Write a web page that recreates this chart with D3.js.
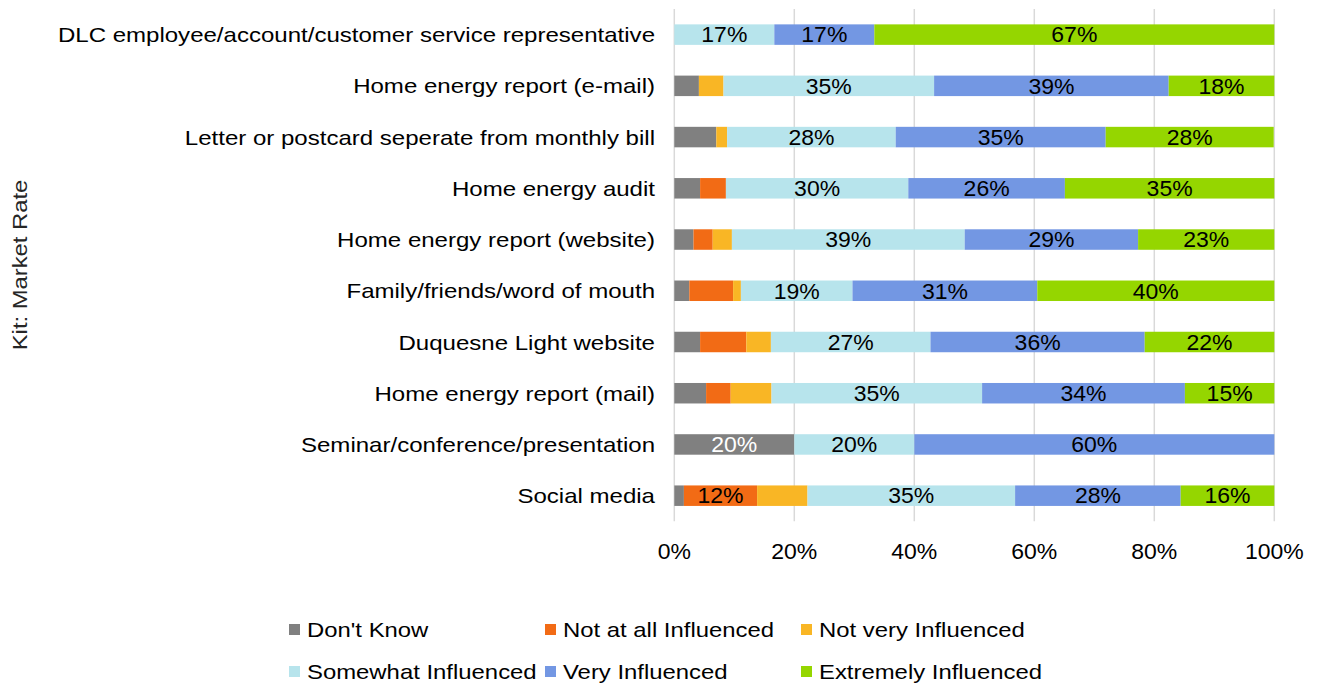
<!DOCTYPE html>
<html>
<head>
<meta charset="utf-8">
<script src="https://cdn.jsdelivr.net/npm/d3@7"></script>
<style>
  body { margin: 0; background: #fff; }
  svg { display: block; font-family: "Liberation Sans", Arial, sans-serif; }
</style>
</head>
<body>
<svg class="canvas" width="1320" height="685"></svg>
<script>
"use strict";

const categories = [
  "DLC employee/account/customer service representative",
  "Home energy report (e-mail)",
  "Letter or postcard seperate from monthly bill",
  "Home energy audit",
  "Home energy report (website)",
  "Family/friends/word of mouth",
  "Duquesne Light website",
  "Home energy report (mail)",
  "Seminar/conference/presentation",
  "Social media"
];
const seriesNames = [
  "Don't Know",
  "Not at all Influenced",
  "Not very Influenced",
  "Somewhat Influenced",
  "Very Influenced",
  "Extremely Influenced"
];
const seriesColors = ["#808080", "#f26b15", "#f9b625", "#b7e4ec", "#7397e3", "#95d600"];

// percent per category, same order as categories
const dontKnow     = [0,     4.1, 7.0, 4.3, 3.2, 2.5, 4.3, 5.3, 20, 1.6];
const notAtAll     = [0,     0,   0,   4.3, 3.2, 7.3, 7.7, 4.1, 0,  12.2];
const notVery      = [0,     4.1, 1.8, 0,   3.2, 1.3, 4.1, 6.8, 0,  8.4];
const somewhat     = [16.67, 35.1, 28.1, 30.4, 38.8, 18.6, 26.6, 35.1, 20, 34.6];
const very         = [16.67, 39.1, 35.0, 26.1, 28.9, 30.8, 35.7, 33.8, 60, 27.6];
const extremely    = [66.66, 17.6, 28.0, 34.9, 22.7, 39.5, 21.6, 14.9, 0,  15.6];
const xTicks = [0, 20, 40, 60, 80, 100];

const seriesValues = [dontKnow, notAtAll, notVery, somewhat, very, extremely];

function render() {
  const svg = d3.select(".canvas");
  const left = 674.3, right = 1274.3, top = 9, bottom = 521.3;

  const rows = categories.map((c, i) => {
    const r = { cat: c };
    seriesNames.forEach((s, j) => { r[s] = seriesValues[j][i]; });
    return r;
  });

  const x = d3.scaleLinear().domain([0, 100]).range([left, right]);
  const y = d3.scaleBand().domain(categories).range([top, bottom])
    .paddingInner(0.6).paddingOuter(0.3);

  // stretched text helper (reference glyphs are wider than Arial)
  function stretch(sel, sx) {
    sel.attr("transform", function () {
      const t = d3.select(this);
      return `translate(${t.attr("data-x")},${t.attr("data-y")}) scale(${sx},1)`;
    });
  }

  // gridlines
  svg.append("g")
    .selectAll("line")
    .data(xTicks)
    .join("line")
    .attr("x1", d => x(d)).attr("x2", d => x(d))
    .attr("y1", top).attr("y2", bottom)
    .attr("stroke", "#d9d9d9")
    .attr("stroke-width", 1.5);

  const stack = d3.stack().keys(seriesNames)(rows);

  const layers = svg.append("g")
    .selectAll("g")
    .data(stack)
    .join("g")
    .attr("fill", (d, i) => seriesColors[i]);

  layers.selectAll("rect")
    .data(d => d)
    .join("rect")
    .attr("x", d => x(d[0]))
    .attr("width", d => x(d[1]) - x(d[0]))
    .attr("y", d => y(d.data.cat))
    .attr("height", y.bandwidth());

  // value labels
  layers.each(function (layer, i) {
    d3.select(this).selectAll("text")
      .data(layer.filter(d => d[1] - d[0] >= 10))
      .join("text")
      .attr("data-x", d => (x(d[0]) + x(d[1])) / 2)
      .attr("data-y", d => y(d.data.cat) + y.bandwidth() / 2)
      .attr("dy", "0.36em")
      .attr("text-anchor", "middle")
      .attr("font-size", 21.5)
      .attr("fill", i === 0 ? "#fff" : "#000")
      .text(d => Math.round(d[1] - d[0]) + "%")
      .call(stretch, 1.07);
  });

  // category labels
  svg.append("g")
    .selectAll("text")
    .data(categories)
    .join("text")
    .attr("data-x", 655)
    .attr("data-y", d => y(d) + y.bandwidth() / 2)
    .attr("dy", "0.36em")
    .attr("text-anchor", "end")
    .attr("font-size", 21)
    .attr("fill", "#000")
    .text(d => d)
    .call(stretch, 1.145);

  // x tick labels
  svg.append("g")
    .selectAll("text")
    .data(xTicks)
    .join("text")
    .attr("data-x", d => x(d))
    .attr("data-y", 551)
    .attr("dy", "0.36em")
    .attr("text-anchor", "middle")
    .attr("font-size", 21.5)
    .attr("fill", "#000")
    .text(d => d + "%")
    .call(stretch, 1.07);

  // y axis title
  svg.append("text")
    .attr("transform", "translate(27,265) rotate(-90) scale(1.19,1)")
    .attr("text-anchor", "middle")
    .attr("font-size", 20)
    .attr("fill", "#262626")
    .text("Kit: Market Rate");

  // legend
  const legX = [289, 545, 801];
  const legY = [630, 672];
  const leg = svg.append("g")
    .selectAll("g")
    .data(seriesNames)
    .join("g")
    .attr("transform", (d, i) => `translate(${legX[i % 3]},${legY[Math.floor(i / 3)]})`);
  leg.append("rect")
    .attr("x", 0).attr("y", -6)
    .attr("width", 11).attr("height", 11)
    .attr("fill", (d, i) => seriesColors[i]);
  leg.append("text")
    .attr("data-x", 18)
    .attr("data-y", 0)
    .attr("dy", "0.36em")
    .attr("font-size", 20.5)
    .attr("fill", "#000")
    .text(d => d)
    .call(stretch, 1.165);
}

window.onload = render;
</script>
</body>
</html>
